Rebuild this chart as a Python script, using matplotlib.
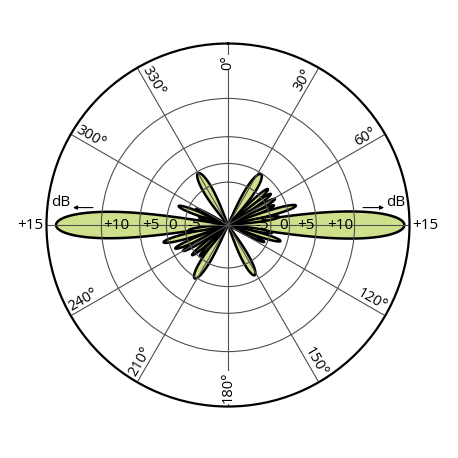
import numpy as np
import matplotlib
matplotlib.use("Agg")
import matplotlib.pyplot as plt

# ---------------- data ----------------
# lobes of the radiation pattern: direction (deg, clockwise from top), peak level (dB), half beam width (deg)
lobe_angles = [90, 270, 33, 330, 152, 212, 48, 54, 61, 67, 74, 81, 100, 107, 115,
               255, 246, 240, 230, 222, 291, 297, 285, 262]
lobe_peaks_db = [14.6, 14.25, -0.2, -0.4, -1.1, 0.3, -1.9, -2.1, -1.9, -2.9, 1.9, -2.4, -4.4, -1.6, -6.0,
                 1.1, -0.9, -2.4, -3.8, -5.3, -2.1, -7.5, -10.0, -6.0]
lobe_halfwidths = [9, 9, 9, 9, 8, 8, 4.5, 4, 4, 4, 4.5, 4, 4, 4.5, 4,
                   4.5, 4, 4, 4, 4, 4.5, 4, 5, 5]

ring_levels = [-5, 0, 5, 10]
ring_labels = ["-5", "0", "+5", "+10"]
outer_level = 15
outer_label = "+15"
angle_ticks = [0, 30, 60, 90, 120, 150, 180, 210, 240, 270, 300, 330]
angle_labels = ["0°", "30°", "60°", "", "120°", "150°", "180°", "210°", "240°", "", "300°", "330°"]
unit_label = "dB"

# ---------------- radial scale ----------------
DB_PER_DECADE = 32.0
R_MIN = -80.0


def fwd(db):
    return 10.0 ** (np.asarray(db, dtype=float) / DB_PER_DECADE)


def inv(r):
    return DB_PER_DECADE * np.log10(np.maximum(np.asarray(r, dtype=float), 1e-12))


FILL = "#cfe08c"
GRID = "#505050"
FONT = ["Open Sans", "DejaVu Sans"]
plt.rcParams["font.family"] = FONT

fig = plt.figure(figsize=(4.58, 4.58), dpi=100)
ax = fig.add_axes([0.1015, 0.1124, 0.7926, 0.7926], projection="polar")
ax.set_theta_zero_location("N")
ax.set_theta_direction(-1)
ax.set_rscale("function", functions=(fwd, inv))
ax.set_rlim(R_MIN, outer_level)

# lobes (main lobes first, others on top)
x = np.linspace(-1, 1, 161)
for ang, peak, hw in zip(lobe_angles, lobe_peaks_db, lobe_halfwidths):
    theta = np.deg2rad(ang + hw * x)
    rdisp = fwd(peak) * np.cos(np.pi / 2 * x).clip(0) ** 0.45
    rdisp = np.maximum(rdisp, fwd(R_MIN))
    ax.fill(theta, inv(rdisp), facecolor=FILL, edgecolor="black", lw=1.8, zorder=1)

# grid
ax.set_xticks(np.deg2rad(angle_ticks))
ax.set_xticklabels([])
ax.set_yticks(ring_levels)
ax.set_yticklabels([])
ax.grid(True, color=GRID, lw=0.8)
ax.spines["polar"].set_color("black")
ax.spines["polar"].set_linewidth(1.6)
ax.tick_params(length=0)

# angle labels
label_r = float(inv(fwd(outer_level) * 0.895))
for a, lab in zip(angle_ticks, angle_labels):
    if not lab:
        continue
    rot = 90 - a if a < 180 else 270 - a
    if a in (0, 180):
        ax.text(np.deg2rad(a), label_r, lab, rotation=rot, ha="center", va="center",
                fontsize=10.5, zorder=5,
                bbox=dict(facecolor="white", edgecolor="none", pad=0.3))
    else:
        ax.text(np.deg2rad(a), label_r, lab, rotation=rot, rotation_mode="anchor",
                ha="center", va="bottom", fontsize=10.5, zorder=5)

# ring level labels on both sides
for lev, lab in zip(ring_levels, ring_labels):
    ax.annotate(lab, xy=(np.deg2rad(90), lev), xytext=(-1, 0), textcoords="offset points",
                ha="right", va="center", fontsize=11, zorder=5)
    ax.annotate(lab, xy=(np.deg2rad(270), lev), xytext=(1.5, 0), textcoords="offset points",
                ha="left", va="center", fontsize=11, zorder=5)
ax.annotate(outer_label, xy=(np.deg2rad(90), outer_level), xytext=(2, 0), textcoords="offset points",
            ha="left", va="center", fontsize=11, annotation_clip=False)
ax.annotate(outer_label, xy=(np.deg2rad(270), outer_level), xytext=(-2.5, 0), textcoords="offset points",
            ha="right", va="center", fontsize=11, annotation_clip=False)

# dB captions with arrows
ax.text(0.040, 0.562, unit_label, transform=ax.transAxes, ha="center", va="center", fontsize=11)
ax.text(0.963, 0.562, unit_label, transform=ax.transAxes, ha="center", va="center", fontsize=11)
arrow = dict(arrowstyle="-|>", color="black", lw=0.8, mutation_scale=6, shrinkA=0, shrinkB=0)
ax.annotate("", xy=(0.073, 0.548), xytext=(0.128, 0.548), xycoords="axes fraction",
            textcoords="axes fraction", arrowprops=arrow)
ax.annotate("", xy=(0.930, 0.548), xytext=(0.872, 0.548), xycoords="axes fraction",
            textcoords="axes fraction", arrowprops=arrow)

fig.savefig("out.png", dpi=100, facecolor="white")
